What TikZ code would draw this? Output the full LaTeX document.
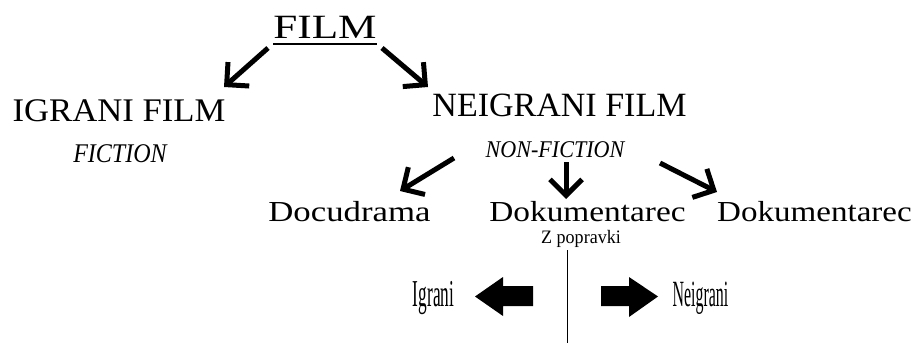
\documentclass[tikz,border=0pt]{standalone}
\usepackage{fontspec}
\setmainfont{Liberation Serif}
\usetikzlibrary{arrows.meta}
\newcommand\lbl[3]{\fontsize{#1}{#1}\selectfont\scalebox{#2}[1]{#3}}
\tikzset{
  txt/.style={anchor=base, inner sep=0pt, outer sep=0pt},
  arr/.style={line width=5pt, -{Straight Barb[length=16pt,width=32pt]}},
  blockarrow/.style={fill=black, draw=none},
}
\begin{document}
\begin{tikzpicture}[x=1pt,y=-1pt]
\useasboundingbox (0,0) rectangle (918,345);
% text nodes
\node[txt] (film) at (325,39) {\lbl{34}{1.27}{FILM}};
\draw[line width=2pt] ([yshift=-5pt]film.base west) -- ([yshift=-5pt]film.base east);
\node[txt] (igrani) at (119,121) {\lbl{33}{1.05}{IGRANI FILM}};
\node[txt] (fiction) at (120,162) {\lbl{27}{0.89}{\itshape FICTION}};
\node[txt] (neigrani) at (559.5,116) {\lbl{34}{1.0}{NEIGRANI FILM}};
\node[txt] (nonfiction) at (555,157) {\lbl{24}{0.92}{\itshape NON-FICTION}};
\node[txt] (docu) at (349.5,221) {\lbl{29}{1.2}{Docudrama}};
\node[txt] (dok1) at (587.5,221) {\lbl{29}{1.15}{Dokumentarec}};
\node[txt] (dok2) at (814.5,221) {\lbl{29}{1.14}{Dokumentarec}};
\node[txt] (zpop) at (581,243) {\lbl{19}{0.95}{Z popravki}};
\node[txt] (igr) at (433.5,306) {\lbl{38}{0.455}{Igrani}};
\node[txt] (neigr) at (700.5,306) {\lbl{37}{0.43}{Neigrani}};
% arrow end coordinates
\coordinate (fl0) at (268,48);  \coordinate (fl1) at (224,87);
\coordinate (fr0) at (382,48);  \coordinate (fr1) at (428,87);
\coordinate (nl0) at (454,158); \coordinate (nl1) at (400,191);
\coordinate (nm0) at (566,162); \coordinate (nm1) at (566,199);
\coordinate (nr0) at (660,163); \coordinate (nr1) at (717,192);
\draw[arr] (fl0) -- (fl1);
\draw[arr] (fr0) -- (fr1);
\draw[arr] (nl0) -- (nl1);
\draw[arr] (nm0) -- (nm1);
\draw[arr] (nr0) -- (nr1);
% divider
\coordinate (v0) at (567,250); \coordinate (v1) at (567,343);
\draw[line width=1pt] (v0) -- (v1);
% block arrows
\fill[blockarrow] (533,286) -- (503,286) -- (503,277) -- (475,296.5) -- (503,316) -- (503,306) -- (533,306) -- cycle;
\fill[blockarrow] (601,286) -- (629,286) -- (629,277) -- (658,296.5) -- (629,317) -- (629,306) -- (601,306) -- cycle;
\end{tikzpicture}
\end{document}
